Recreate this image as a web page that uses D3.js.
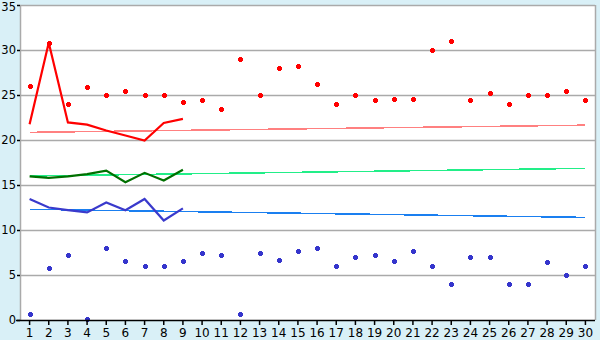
<!DOCTYPE html>
<html>
<head>
<meta charset="utf-8">
<script src="https://cdn.jsdelivr.net/npm/d3@7"></script>
<style>
  body { margin: 0; background: #d9f0f7; }
  text { font-family: "DejaVu Sans", Verdana, sans-serif; font-size: 12px; fill: #000; }
</style>
</head>
<body>
<script>
// days on the x axis
var days = d3.range(1, 31);
var yTicks = [0, 5, 10, 15, 20, 25, 30, 35];

// scattered daily points
var redDots = [26, 30.8, 24, 25.85, 25, 25.45, 25, 25, 24.2, 24.5, 23.5, 28.95, 25, 27.95, 28.2,
  26.2, 24.05, 25, 24.4, 24.6, 24.6, 30, 31, 24.5, 25.2, 24, 25, 25, 25.5, 24.5];
var blueDots = [0.65, 5.75, 7.2, 0.07, 7.95, 6.55, 5.95, 6.05, 6.55, 7.5, 7.2, 0.65, 7.4, 6.65, 7.65,
  7.95, 5.95, 7.05, 7.2, 6.55, 7.65, 6.05, 3.95, 6.95, 6.95, 4.05, 3.95, 6.5, 5.05, 5.95];

// short lines for days 1-9
var redLine = [21.75, 30.8, 21.95, 21.7, 21.05, 20.5, 19.95, 21.9, 22.35];
var greenLine = [15.95, 15.8, 15.95, 16.2, 16.6, 15.3, 16.35, 15.5, 16.7];
var blueLine = [13.45, 12.5, 12.2, 11.95, 13.05, 12.2, 13.45, 11.05, 12.4];

// trend lines, value at day 1 and day 30
var trendDays = [1, 30];
var redTrend = [20.85, 21.65];
var greenTrend = [16.0, 16.85];
var blueTrend = [12.3, 11.4];

var w = 600, h = 340;
var pLeft = 20, pRight = 595, pTop = 5, pBottom = 320;

var svg = d3.select("body").append("svg")
    .attr("width", w)
    .attr("height", h)
    .style("display", "block");

var x = d3.scaleBand()
    .domain(days)
    .range([pLeft, pRight]);
var cx = function (d) { return x(d) + x.bandwidth() / 2; };

var y = d3.scaleLinear()
    .domain([0, 35])
    .range([pBottom, pTop]);

// plot background
svg.append("rect")
    .attr("x", pLeft)
    .attr("y", pTop)
    .attr("width", pRight - pLeft)
    .attr("height", pBottom - pTop)
    .style("fill", "#fff");

// grid lines
svg.selectAll(".grid")
    .data(yTicks.slice(1))
    .enter()
    .append("line")
    .attr("class", "grid")
    .attr("x1", pLeft)
    .attr("x2", pRight)
    .attr("y1", function (d) { return Math.round(y(d)) + 0.5; })
    .attr("y2", function (d) { return Math.round(y(d)) + 0.5; })
    .style("stroke", "#aaa")
    .style("stroke-width", 1.3);

// right border and y axis line
svg.append("line")
    .attr("x1", pRight + 0.5).attr("x2", pRight + 0.5)
    .attr("y1", pTop).attr("y2", pBottom)
    .style("stroke", "#aaa").style("stroke-width", 1.5);
svg.append("line")
    .attr("x1", pLeft + 0.5).attr("x2", pLeft + 0.5)
    .attr("y1", pTop).attr("y2", pBottom)
    .style("stroke", "#aaa").style("stroke-width", 1.5);

// trend lines
function trend(vals, color) {
    var pts = trendDays.map(function (d, i) { return [cx(d), y(vals[i])]; });
    svg.append("path")
        .attr("d", d3.line()(pts))
        .style("fill", "none")
        .style("stroke", color)
        .style("stroke-width", 1.5)
        .style("shape-rendering", "crispEdges");
}
trend(redTrend, "#ff8080");
trend(greenTrend, "#22ee88");
trend(blueTrend, "#1a7ff0");

// short data lines
var line = d3.line()
    .x(function (d, i) { return cx(days[i]); })
    .y(function (d) { return y(d); });
function dataLine(vals, color) {
    svg.append("path")
        .datum(vals)
        .attr("d", line)
        .style("fill", "none")
        .style("stroke", color)
        .style("stroke-width", 2.2);
}
dataLine(redLine, "#ff0000");
dataLine(greenLine, "#007000");
dataLine(blueLine, "#3a3acc");

// cross markers
var marker = "M-1.5,-2.5h3v1h1v3h-1v1h-3v-1h-1v-3h1z";
function dots(vals, color) {
    svg.selectAll(null)
        .data(vals)
        .enter()
        .append("path")
        .attr("d", marker)
        .attr("transform", function (d, i) {
            return "translate(" + (Math.round(cx(days[i])) + 0.5) + "," + (Math.round(y(d)) + 0.5) + ")";
        })
        .style("fill", color)
        .style("shape-rendering", "crispEdges");
}
dots(redDots, "#ff0000");
dots(blueDots, "#3535cc");

// axes
var xAxis = svg.append("g")
    .attr("transform", "translate(0," + pBottom + ")")
    .call(d3.axisBottom(x).tickSize(5).tickPadding(3));
xAxis.select(".domain").attr("d", "M" + (pLeft - 4) + ",0.5H" + pRight).style("stroke", "#000").style("stroke-width", 1.5);
xAxis.selectAll(".tick line").style("stroke", "#000").style("stroke-width", 1.5);
xAxis.selectAll("text").style("font-size", "12px").style("font-family", "DejaVu Sans");

var yAxis = svg.append("g")
    .attr("transform", "translate(" + pLeft + ",0)")
    .call(d3.axisLeft(y).tickValues(yTicks).tickSize(3).tickPadding(1));
yAxis.select(".domain").remove();
yAxis.selectAll(".tick line").style("stroke", "#000").style("stroke-width", 1.5);
yAxis.selectAll("text").style("font-size", "11.5px").style("font-family", "DejaVu Sans");
// top label sits a little lower so it stays inside the picture
yAxis.selectAll(".tick text")
    .filter(function (d) { return d === 35; })
    .attr("y", 2);
</script>
</body>
</html>
